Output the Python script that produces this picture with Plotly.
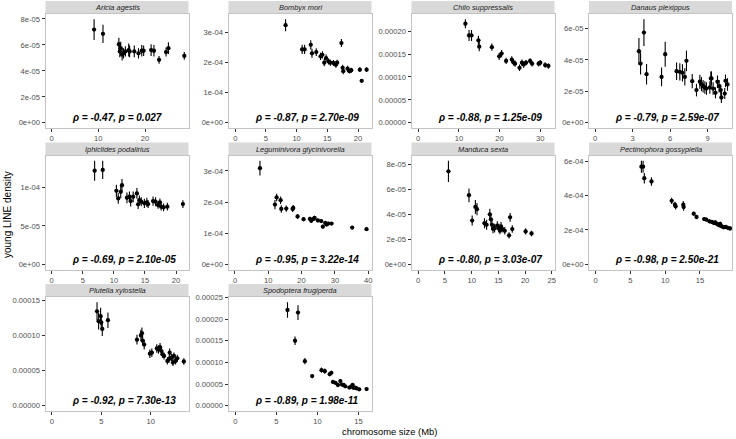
import plotly.graph_objects as go

# ---------------- data ----------------
species = ["Aricia agestis", "Bombyx mori", "Chilo suppressalis", "Danaus plexippus",
           "Iphiclides podalirius", "Leguminivora glycinivorella", "Manduca sexta",
           "Pectinophora gossypiella", "Plutella xylostella", "Spodoptera frugiperda"]

stats = ["ρ = -0.47, p = 0.027", "ρ = -0.87, p = 2.70e-09", "ρ = -0.88, p = 1.25e-09",
         "ρ = -0.79, p = 2.59e-07", "ρ = -0.69, p = 2.10e-05", "ρ = -0.95, p = 3.22e-14",
         "ρ = -0.80, p = 3.03e-07", "ρ = -0.98, p = 2.50e-21", "ρ = -0.92, p = 7.30e-13",
         "ρ = -0.89, p = 1.98e-11"]

x_aricia = [9.1, 11.0, 14.4, 14.6, 14.8, 15.1, 15.4, 15.8, 16.5, 16.7, 17.7, 18.6, 19.3, 19.7, 21.3, 21.9, 23.0, 24.5, 25.0, 28.4]
y_aricia = [7.18e-5, 6.85e-5, 6.05e-5, 5.50e-5, 5.75e-5, 5.25e-5, 5.35e-5, 5.50e-5, 5.60e-5, 5.50e-5, 5.50e-5, 5.35e-5, 5.55e-5, 5.55e-5, 5.60e-5, 5.55e-5, 4.85e-5, 5.45e-5, 5.75e-5, 5.15e-5]
e_aricia = [0.80e-5, 0.70e-5, 0.50e-5, 0.45e-5, 0.50e-5, 0.45e-5, 0.40e-5, 0.40e-5, 0.50e-5, 0.45e-5, 0.45e-5, 0.40e-5, 0.45e-5, 0.40e-5, 0.45e-5, 0.45e-5, 0.30e-5, 0.35e-5, 0.45e-5, 0.30e-5]

x_bombyx = [8.2, 10.9, 11.3, 12.3, 12.5, 13.2, 13.9, 14.2, 14.5, 14.8, 15.2, 15.5, 16.0, 16.4, 16.6, 17.3, 17.5, 17.6, 18.3, 18.6, 18.9, 20.3, 20.6, 21.4]
y_bombyx = [3.23e-4, 2.43e-4, 2.43e-4, 2.58e-4, 2.30e-4, 2.34e-4, 2.20e-4, 2.25e-4, 1.99e-4, 2.14e-4, 2.03e-4, 1.99e-4, 1.98e-4, 1.92e-4, 1.99e-4, 2.64e-4, 1.82e-4, 1.71e-4, 1.79e-4, 1.71e-4, 1.74e-4, 1.76e-4, 1.39e-4, 1.76e-4]
e_bombyx = [0.20e-4, 0.15e-4, 0.15e-4, 0.15e-4, 0.15e-4, 0.13e-4, 0.12e-4, 0.12e-4, 0.12e-4, 0.12e-4, 0.10e-4, 0.10e-4, 0.10e-4, 0.10e-4, 0.10e-4, 0.13e-4, 0.10e-4, 0.10e-4, 0.10e-4, 0.08e-4, 0.08e-4, 0.08e-4, 0.06e-4, 0.08e-4]

x_chilo = [11.6, 12.5, 13.1, 14.8, 15.0, 18.1, 19.9, 20.5, 21.6, 23.0, 23.4, 23.8, 24.9, 25.5, 25.9, 26.5, 27.5, 28.0, 29.6, 30.0, 31.2, 32.0]
y_chilo = [2.16e-4, 1.905e-4, 1.905e-4, 1.80e-4, 1.66e-4, 1.65e-4, 1.45e-4, 1.51e-4, 1.35e-4, 1.38e-4, 1.32e-4, 1.29e-4, 1.20e-4, 1.31e-4, 1.27e-4, 1.31e-4, 1.35e-4, 1.29e-4, 1.29e-4, 1.31e-4, 1.26e-4, 1.24e-4]
e_chilo = [0.10e-4, 0.12e-4, 0.12e-4, 0.10e-4, 0.10e-4, 0.08e-4, 0.08e-4, 0.08e-4, 0.07e-4, 0.07e-4, 0.07e-4, 0.07e-4, 0.07e-4, 0.07e-4, 0.07e-4, 0.06e-4, 0.06e-4, 0.06e-4, 0.06e-4, 0.06e-4, 0.06e-4, 0.06e-4]

x_danaus = [3.51, 3.64, 3.91, 4.12, 5.32, 5.61, 6.52, 6.78, 6.99, 7.18, 7.31, 7.77, 8.11, 8.38, 8.51, 8.64, 8.78, 8.91, 9.18, 9.26, 9.31, 9.44, 9.63, 9.79, 9.92, 10.05, 10.10, 10.37, 10.43, 10.59]
y_danaus = [4.55e-5, 3.77e-5, 5.74e-5, 3.09e-5, 2.92e-5, 4.36e-5, 3.28e-5, 3.24e-5, 3.18e-5, 2.92e-5, 3.94e-5, 2.65e-5, 2.08e-5, 2.61e-5, 2.46e-5, 2.33e-5, 2.25e-5, 2.18e-5, 2.25e-5, 2.82e-5, 2.82e-5, 2.18e-5, 1.91e-5, 2.61e-5, 2.33e-5, 2.08e-5, 1.61e-5, 1.86e-5, 2.67e-5, 2.44e-5]
e_danaus = [0.85e-5, 0.70e-5, 0.85e-5, 0.65e-5, 0.60e-5, 0.80e-5, 0.55e-5, 0.55e-5, 0.55e-5, 0.55e-5, 0.65e-5, 0.45e-5, 0.40e-5, 0.45e-5, 0.45e-5, 0.40e-5, 0.40e-5, 0.40e-5, 0.40e-5, 0.45e-5, 0.45e-5, 0.40e-5, 0.35e-5, 0.40e-5, 0.40e-5, 0.35e-5, 0.35e-5, 0.35e-5, 0.40e-5, 0.40e-5]

x_iphiclides = [6.9, 8.2, 10.4, 10.7, 11.1, 11.3, 12.1, 12.5, 12.7, 13.1, 13.7, 13.9, 14.1, 14.4, 14.9, 15.3, 15.5, 16.3, 16.7, 17.1, 17.4, 17.6, 18.0, 18.6, 21.1]
y_iphiclides = [12.2e-5, 12.3e-5, 9.57e-5, 8.58e-5, 9.44e-5, 10.3e-5, 8.67e-5, 8.80e-5, 8.24e-5, 8.80e-5, 9.23e-5, 7.81e-5, 8.37e-5, 8.15e-5, 7.94e-5, 8.07e-5, 7.85e-5, 8.24e-5, 8.15e-5, 7.73e-5, 8.07e-5, 7.51e-5, 7.42e-5, 7.51e-5, 7.85e-5]
e_iphiclides = [1.3e-5, 1.2e-5, 0.8e-5, 0.7e-5, 0.8e-5, 0.8e-5, 0.7e-5, 0.7e-5, 0.7e-5, 0.7e-5, 0.7e-5, 0.6e-5, 0.6e-5, 0.6e-5, 0.6e-5, 0.6e-5, 0.5e-5, 0.6e-5, 0.6e-5, 0.5e-5, 0.5e-5, 0.5e-5, 0.5e-5, 0.5e-5, 0.5e-5]

x_legum = [7.5, 12.0, 12.5, 13.7, 13.9, 15.4, 17.3, 17.5, 18.8, 20.6, 22.5, 22.9, 23.6, 23.9, 24.9, 25.9, 26.4, 27.1, 27.5, 28.0, 29.0, 35.2, 39.5]
y_legum = [3.09e-4, 1.92e-4, 2.15e-4, 2.06e-4, 1.78e-4, 1.79e-4, 1.78e-4, 1.81e-4, 1.54e-4, 1.45e-4, 1.46e-4, 1.40e-4, 1.46e-4, 1.49e-4, 1.41e-4, 1.39e-4, 1.21e-4, 1.33e-4, 1.28e-4, 1.31e-4, 1.31e-4, 1.18e-4, 1.13e-4]
e_legum = [0.24e-4, 0.15e-4, 0.12e-4, 0.12e-4, 0.12e-4, 0.10e-4, 0.10e-4, 0.10e-4, 0.08e-4, 0.07e-4, 0.07e-4, 0.07e-4, 0.07e-4, 0.07e-4, 0.06e-4, 0.06e-4, 0.06e-4, 0.06e-4, 0.06e-4, 0.06e-4, 0.05e-4, 0.05e-4, 0.05e-4]

x_manduca = [5.66, 9.5, 10.1, 10.7, 11.0, 12.4, 12.8, 13.4, 13.6, 13.8, 14.0, 14.3, 14.8, 15.1, 15.3, 15.5, 15.7, 16.2, 17.0, 17.2, 17.6, 20.1, 21.2]
y_manduca = [7.45e-5, 5.53e-5, 3.50e-5, 4.60e-5, 4.42e-5, 3.29e-5, 3.16e-5, 4.00e-5, 3.60e-5, 3.16e-5, 2.84e-5, 2.89e-5, 3.10e-5, 2.89e-5, 2.71e-5, 3.03e-5, 2.84e-5, 2.68e-5, 2.32e-5, 3.76e-5, 2.82e-5, 2.63e-5, 2.47e-5]
e_manduca = [0.85e-5, 0.55e-5, 0.40e-5, 0.55e-5, 0.50e-5, 0.40e-5, 0.40e-5, 0.45e-5, 0.40e-5, 0.40e-5, 0.35e-5, 0.35e-5, 0.35e-5, 0.35e-5, 0.30e-5, 0.35e-5, 0.30e-5, 0.30e-5, 0.25e-5, 0.35e-5, 0.30e-5, 0.25e-5, 0.22e-5]

x_pecti = [6.58, 6.82, 7.0, 8.03, 10.93, 11.4, 11.5, 12.6, 12.65, 14.1, 14.5, 15.6, 15.9, 16.35, 16.7, 17.0, 17.2, 17.4, 17.6, 17.8, 17.9, 18.1, 18.4, 18.7, 19.0, 19.3]
y_pecti = [5.67e-4, 5.67e-4, 5.00e-4, 4.81e-4, 3.69e-4, 3.46e-4, 3.37e-4, 3.46e-4, 3.33e-4, 2.94e-4, 2.75e-4, 2.63e-4, 2.60e-4, 2.50e-4, 2.46e-4, 2.40e-4, 2.44e-4, 2.35e-4, 2.31e-4, 2.27e-4, 2.35e-4, 2.21e-4, 2.15e-4, 2.17e-4, 2.12e-4, 2.08e-4]
e_pecti = [0.35e-4, 0.35e-4, 0.30e-4, 0.25e-4, 0.18e-4, 0.18e-4, 0.18e-4, 0.22e-4, 0.22e-4, 0.12e-4, 0.12e-4, 0.12e-4, 0.12e-4, 0.12e-4, 0.12e-4, 0.12e-4, 0.12e-4, 0.12e-4, 0.12e-4, 0.12e-4, 0.12e-4, 0.10e-4, 0.10e-4, 0.10e-4, 0.10e-4, 0.10e-4]

x_plutella = [4.57, 4.73, 4.93, 5.0, 5.1, 5.67, 8.6, 9.0, 9.1, 9.17, 9.33, 9.9, 10.1, 10.6, 10.77, 10.93, 11.07, 11.17, 11.33, 11.67, 11.83, 11.9, 12.1, 12.23, 12.33, 12.5, 12.67, 13.33]
y_plutella = [13.46e-5, 12.06e-5, 12.76e-5, 11.88e-5, 10.95e-5, 12.20e-5, 9.42e-5, 10.02e-5, 10.35e-5, 9.28e-5, 8.72e-5, 7.42e-5, 7.56e-5, 8.17e-5, 8.03e-5, 8.35e-5, 7.80e-5, 7.33e-5, 7.10e-5, 6.40e-5, 6.64e-5, 7.56e-5, 6.87e-5, 6.17e-5, 7.10e-5, 6.40e-5, 6.77e-5, 6.31e-5]
e_plutella = [1.3e-5, 1.2e-5, 1.2e-5, 1.1e-5, 1.0e-5, 1.1e-5, 0.7e-5, 0.8e-5, 0.8e-5, 0.7e-5, 0.7e-5, 0.6e-5, 0.6e-5, 0.6e-5, 0.6e-5, 0.6e-5, 0.6e-5, 0.5e-5, 0.5e-5, 0.5e-5, 0.5e-5, 0.6e-5, 0.5e-5, 0.5e-5, 0.5e-5, 0.5e-5, 0.5e-5, 0.45e-5]

x_spodo = [6.35, 7.27, 7.63, 8.47, 9.36, 10.5, 10.9, 11.5, 11.7, 11.9, 12.2, 12.5, 12.8, 13.0, 13.2, 13.4, 13.9, 14.1, 14.3, 14.4, 14.6, 14.8, 15.1, 16.0]
y_spodo = [2.21e-4, 1.50e-4, 2.15e-4, 1.03e-4, 0.685e-4, 0.823e-4, 0.80e-4, 0.73e-4, 0.76e-4, 0.55e-4, 0.53e-4, 0.48e-4, 0.57e-4, 0.49e-4, 0.48e-4, 0.45e-4, 0.42e-4, 0.44e-4, 0.48e-4, 0.415e-4, 0.42e-4, 0.40e-4, 0.38e-4, 0.385e-4]
e_spodo = [0.18e-4, 0.10e-4, 0.17e-4, 0.07e-4, 0.05e-4, 0.06e-4, 0.06e-4, 0.05e-4, 0.05e-4, 0.04e-4, 0.04e-4, 0.04e-4, 0.04e-4, 0.035e-4, 0.035e-4, 0.03e-4, 0.03e-4, 0.03e-4, 0.03e-4, 0.03e-4, 0.03e-4, 0.03e-4, 0.03e-4, 0.03e-4]

xs = [x_aricia, x_bombyx, x_chilo, x_danaus, x_iphiclides, x_legum, x_manduca, x_pecti, x_plutella, x_spodo]
ys = [y_aricia, y_bombyx, y_chilo, y_danaus, y_iphiclides, y_legum, y_manduca, y_pecti, y_plutella, y_spodo]
es = [e_aricia, e_bombyx, e_chilo, e_danaus, e_iphiclides, e_legum, e_manduca, e_pecti, e_plutella, e_spodo]

x_ticks = [[0, 10, 20], [0, 5, 10, 15, 20], [0, 10, 20, 30], [0, 3, 6, 9], [0, 5, 10, 15, 20],
           [0, 10, 20, 30, 40], [0, 5, 10, 15, 20, 25], [0, 5, 10, 15], [0, 5, 10], [0, 5, 10, 15]]
y_ticks = [[0, 2e-5, 4e-5, 6e-5, 8e-5], [0, 1e-4, 2e-4, 3e-4], [0, 5e-5, 1e-4, 1.5e-4, 2e-4],
           [0, 2e-5, 4e-5, 6e-5], [0, 5e-5, 1e-4], [0, 1e-4, 2e-4, 3e-4], [0, 2e-5, 4e-5, 6e-5, 8e-5],
           [0, 2e-4, 4e-4, 6e-4], [0, 5e-5, 1e-4, 1.5e-4], [0, 5e-5, 1e-4, 1.5e-4, 2e-4, 2.5e-4]]
y_ticktext = [["0e+00", "2e-05", "4e-05", "6e-05", "8e-05"], ["0e+00", "1e-04", "2e-04", "3e-04"],
              ["0.00000", "0.00005", "0.00010", "0.00015", "0.00020"], ["0e+00", "2e-05", "4e-05", "6e-05"],
              ["0e+00", "5e-05", "1e-04"], ["0e+00", "1e-04", "2e-04", "3e-04"],
              ["0e+00", "2e-05", "4e-05", "6e-05", "8e-05"], ["0e+00", "2e-04", "4e-04", "6e-04"],
              ["0.00000", "0.00005", "0.00010", "0.00015"],
              ["0.00000", "0.00005", "0.00010", "0.00015", "0.00020", "0.00025"]]

# x ranges (axis extents)
x_ranges = [[-1.3, 29.3], [-1.1, 22.2], [-1.65, 33.5], [-0.48, 10.95], [-1.0, 22.0],
            [-1.95, 41.0], [-1.25, 25.5], [-0.95, 19.6], [-0.63, 13.8], [-0.85, 16.6]]

# ---------------- layout geometry (pixels) ----------------
W, H = 736, 439
col_left = [45.5, 228.5, 411.5, 589.0]
panel_w = 143.0
row_strip_top = [1.0, 142.5, 284.0]
strip_h = 13.0
panel_h = 114.0

FONT = "Liberation Sans, Arial, Helvetica, sans-serif"

fig = go.Figure()
shapes = []
annotations = []
layout_axes = {}

for i in range(10):
    r, c = divmod(i, 4)
    L = col_left[c]
    R = L + panel_w
    ST = row_strip_top[r]
    T = ST + strip_h
    B = T + panel_h
    k = "" if i == 0 else str(i + 1)

    fig.add_trace(go.Scatter(
        x=xs[i], y=ys[i], mode="markers",
        marker=dict(color="black", size=4.3),
        error_y=dict(type="data", array=es[i], color="black", thickness=1.1, width=0),
        xaxis="x" + k, yaxis="y" + k, showlegend=False, hoverinfo="skip"))

    ymax = max(a + b for a, b in zip(ys[i], es[i]))
    yr = [-0.05 * ymax, 1.05 * ymax]

    common = dict(showgrid=False, zeroline=False, showline=True, mirror=True,
                  linecolor="#C4C4C4", linewidth=1, ticks="outside", ticklen=3,
                  tickwidth=1, tickcolor="#333333", automargin=False, fixedrange=True,
                  tickfont=dict(family=FONT, size=7.6, color="#4D4D4D"))
    layout_axes["xaxis" + k] = dict(common, domain=[L / W, R / W], range=x_ranges[i],
                                    tickvals=x_ticks[i], ticktext=[str(t) for t in x_ticks[i]],
                                    anchor="y" + k)
    layout_axes["yaxis" + k] = dict(common, domain=[(H - B) / H, (H - T) / H], range=yr,
                                    tickvals=y_ticks[i], ticktext=y_ticktext[i],
                                    anchor="x" + k)

    shapes.append(dict(type="rect", xref="paper", yref="paper",
                       x0=L / W, x1=R / W, y0=(H - T) / H, y1=(H - ST) / H,
                       fillcolor="#D9D9D9", line=dict(width=0), layer="below"))
    annotations.append(dict(xref="paper", yref="paper", x=(L + R) / 2 / W,
                            y=(H - (ST + T) / 2) / H, text="<i>" + species[i] + "</i>",
                            showarrow=False, xanchor="center", yanchor="middle",
                            font=dict(family=FONT, size=7.4, color="#1A1A1A")))
    annotations.append(dict(xref="paper", yref="paper", x=(L + 24) / W,
                            y=(H - (B - 10.5)) / H, text="<b><i>" + stats[i] + "</i></b>",
                            showarrow=False, xanchor="left", yanchor="middle",
                            font=dict(family=FONT, size=10, color="black")))

annotations.append(dict(xref="paper", yref="paper", x=389 / W, y=0,
                        text="chromosome size (Mb)", showarrow=False, xanchor="center",
                        yanchor="bottom", font=dict(family=FONT, size=9.4, color="black")))
annotations.append(dict(xref="paper", yref="paper", x=8 / W, y=(H - 215) / H,
                        text="young LINE density", showarrow=False, textangle=-90,
                        xanchor="center", yanchor="middle",
                        font=dict(family=FONT, size=10, color="black")))

fig.update_layout(width=W, height=H, margin=dict(l=0, r=0, t=0, b=0),
                  paper_bgcolor="white", plot_bgcolor="white",
                  shapes=shapes, annotations=annotations, **layout_axes)

fig.write_html("out.html")
